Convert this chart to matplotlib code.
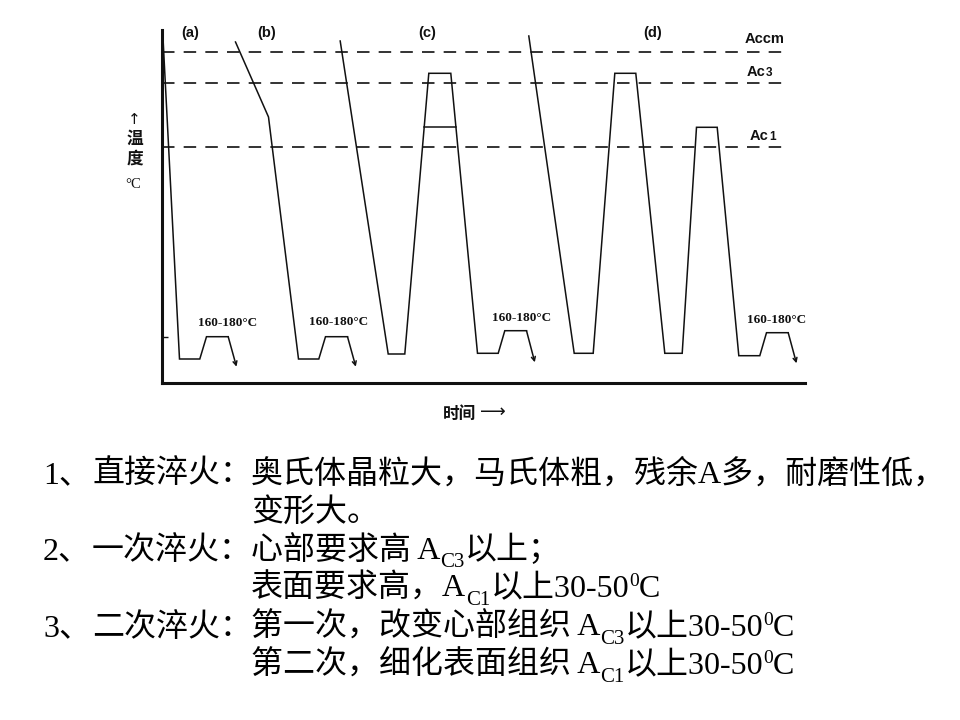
import matplotlib
matplotlib.use('Agg')
import matplotlib.pyplot as plt

W, H = 960, 720
fig = plt.figure(figsize=(9.6, 7.2), dpi=100)
fig.patch.set_facecolor('white')

# ---------------- data (time / temperature in arbitrary schematic units) ----------------
# critical temperatures
crit_names = ['Accm', 'Ac', 'Ac']
crit_subs = ['', '3', '1']
crit_temps = [330.7, 300.3, 236.3]
temper_level = 46.3

# (a) direct quenching + tempering
a_t = [1.5, 18.0, 38.3, 45.0, 66.7]
a_T = [345.0, 24.0, 24.0, 46.3, 46.3]
a_arrow = [75.0, 16.3]
# (b) pre-cooled direct quenching + tempering
b_t = [74.0, 107.0, 137.0, 157.3, 164.0, 186.0]
b_T = [341.0, 266.0, 24.0, 24.0, 46.3, 46.3]
b_arrow = [194.3, 16.3]
# (c) single quenching
c_t = [178.7, 226.7, 243.3, 267.3, 289.3, 316.0, 336.7, 343.3, 365.0]
c_T = [342.0, 29.0, 29.0, 309.7, 309.7, 29.7, 29.7, 52.3, 52.3]
c_arrow = [373.3, 20.7]
c_inner_t = [262.7, 294.4]
c_inner_T = [255.7, 255.7]
# (d) double quenching
d_t = [367.3, 412.7, 431.7, 453.3, 474.3, 503.3, 520.7, 535.0, 555.7, 577.3, 598.3, 605.0, 626.7]
d_T = [347.0, 29.7, 29.7, 309.7, 309.7, 29.7, 29.7, 255.7, 255.7, 27.3, 27.3, 50.3, 50.3]
d_arrow = [635.0, 19.7]

curves = [(a_t, a_T, a_arrow), (b_t, b_T, b_arrow), (c_t, c_T, c_arrow), (d_t, d_T, d_arrow)]

panel_labels = ['(a)', '(b)', '(c)', '(d)']
panel_label_t = [28.5, 105.5, 265.5, 491.5]
panel_label_T = [349.5, 349.5, 349.5, 349.5]

temper_text = '160-180°C'
temper_label_t = [66.0, 177.0, 359.7, 615.0]
temper_label_T = [60.3, 61.3, 64.7, 63.0]

dash_end = 621.7

# ---------------- chart ----------------
LC = '#111111'
ax = fig.add_axes([161.5 / W, 1 - 383 / H, 643.5 / W, 353 / H])
ax.set_xlim(0, 643.5)
ax.set_ylim(0, 353)
ax.patch.set_alpha(0)
for s in ['top', 'right']:
    ax.spines[s].set_visible(False)
for s in ['left', 'bottom']:
    ax.spines[s].set_linewidth(2.2)
    ax.spines[s].set_color(LC)
ax.set_xticks([])
ax.set_yticks([temper_level])
ax.tick_params(axis='y', direction='in', length=4, width=1.0, color=LC, labelleft=False)

for T in crit_temps:
    ax.plot([0, dash_end], [T, T], color=LC, lw=1.2, ls=(0, (7.5, 5.5)), clip_on=False)

for t, T, arr in curves:
    ax.plot(t, T, color=LC, lw=1.1, solid_joinstyle='miter', clip_on=False)
    ax.annotate('', xy=(arr[0], arr[1]), xytext=(t[-1], T[-1]),
                arrowprops=dict(arrowstyle='->', lw=1.1, color=LC, shrinkA=0, shrinkB=0,
                                mutation_scale=7))
ax.plot(c_inner_t, c_inner_T, color=LC, lw=1.1, clip_on=False)

for lab, t, T in zip(panel_labels, panel_label_t, panel_label_T):
    ax.text(t, T, lab, ha='center', va='center', fontsize=10.5, fontweight='bold',
            family='Liberation Sans', color=LC, clip_on=False)

for t, T in zip(temper_label_t, temper_label_T):
    ax.text(t, T, temper_text, ha='center', va='center', fontsize=9.5, fontweight='bold',
            family='Liberation Serif', color=LC, clip_on=False)

renderer = fig.canvas.get_renderer()

def ftext(x, y, s, **kw):
    return fig.text(x / W, 1 - y / H, s, **kw)

# critical temperature labels
crit_label_x = [745, 747, 750]
crit_label_y = [43, 76, 140]
for name, sub, x, y in zip(crit_names, crit_subs, crit_label_x, crit_label_y):
    t1 = ftext(x, y, name, fontsize=10.5, fontweight='bold', family='Liberation Sans',
               va='baseline', ha='left', color=LC)
    if sub:
        w = t1.get_window_extent(renderer).width
        ftext(x + w + 0.5, y, sub, fontsize=8.5, fontweight='bold', family='Liberation Sans',
              va='baseline', ha='left', color=LC)

# axis labels
CJKB = dict(family=['Noto Sans CJK SC', 'DejaVu Sans'], fontweight='bold', color=LC)
ftext(134.5, 120, '↑', fontsize=11, family='DejaVu Sans', ha='center', va='center', color=LC)
ftext(135, 139, '温', fontsize=12, ha='center', va='center', **CJKB)
ftext(135, 159, '度', fontsize=12, ha='center', va='center', **CJKB)
ftext(133.5, 185, '°C', fontsize=10.5, family='Liberation Serif', ha='center', va='center', color=LC)
ftext(460, 413.5, '时间', fontsize=12, ha='center', va='center', **CJKB)
ftext(493, 412, '⟶', fontsize=13, family='DejaVu Sans', ha='center', va='center', color=LC)

# ---------------- explanatory text ----------------
FAM = ['Liberation Serif', 'Noto Sans CJK SC']
SIZES = {'n': 23, 'sub': 15, 'sup': 14}
SHIFT = {'n': 0, 'sub': 8, 'sup': -11}

def flow(pieces, y_base):
    x = 0
    for p in pieces:
        s, kind = p[0], p[1]
        if len(p) > 2:
            x = p[2]
        t = ftext(x, y_base + SHIFT[kind], s, fontsize=SIZES[kind], family=FAM,
                  va='baseline', ha='left', color='black', fontweight='light')
        x += t.get_window_extent(renderer).width

lines = [
    (483, [('1、', 'n', 43), ('直接淬火：', 'n', 92),
           ('奥氏体晶粒大，马氏体粗，残余A多，耐磨性低，', 'n', 251)]),
    (521, [('变形大。', 'n', 251)]),
    (559, [('2、', 'n', 43), ('一次淬火：', 'n', 92), ('心部要求高 A', 'n', 251),
           ('C3', 'sub'), ('以上；', 'n')]),
    (597, [('表面要求高，A', 'n', 251), ('C1', 'sub'), ('以上30-50', 'n'),
           ('0', 'sup'), ('C', 'n')]),
    (636, [('3、', 'n', 43), ('二次淬火：', 'n', 92), ('第一次，改变心部组织 A', 'n', 251),
           ('C3', 'sub'), ('以上30-50', 'n'), ('0', 'sup'), ('C', 'n')]),
    (674, [('第二次，细化表面组织 A', 'n', 251), ('C1', 'sub'), ('以上30-50', 'n'),
           ('0', 'sup'), ('C', 'n')]),
]
for y, pieces in lines:
    flow(pieces, y)

fig.savefig('out.png', dpi=100, facecolor='white')
